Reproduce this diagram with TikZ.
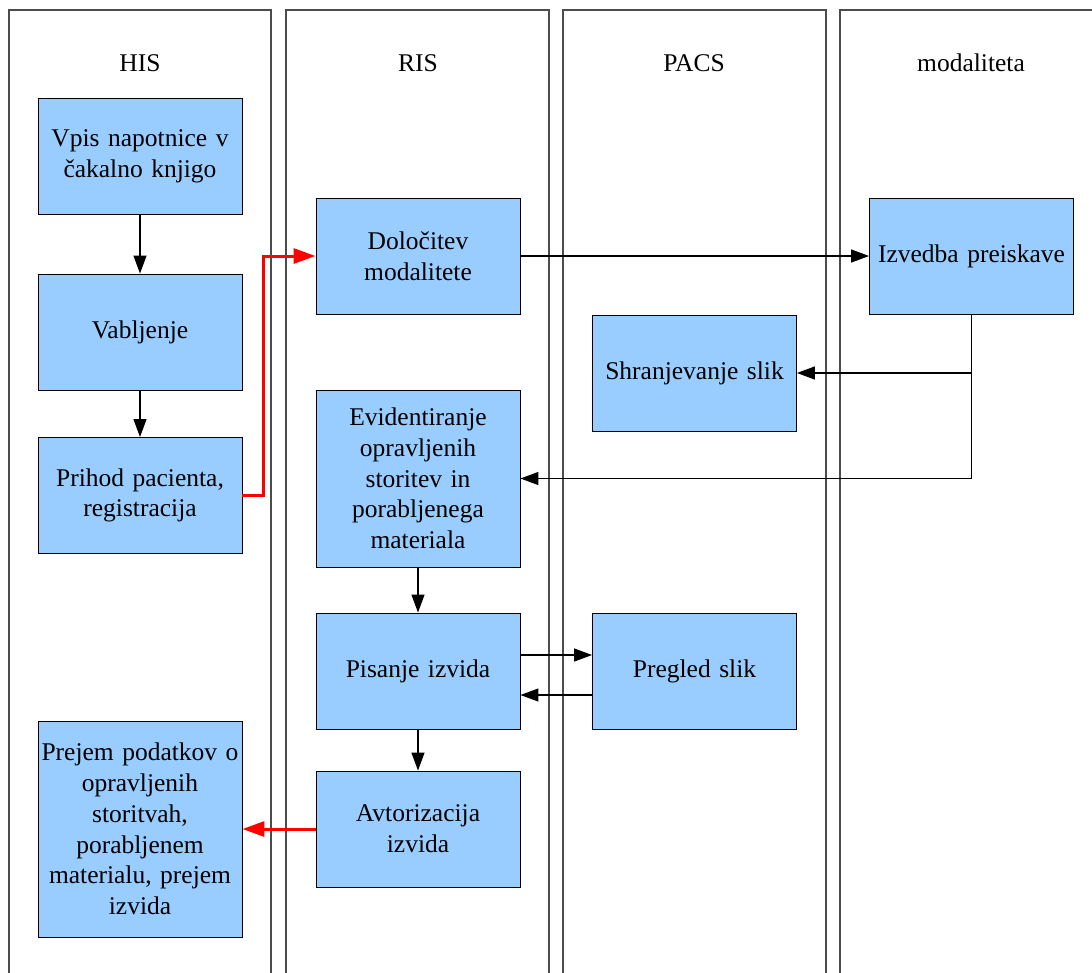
\documentclass[tikz,border=0pt]{standalone}
\usepackage{fontspec}
\setmainfont{Liberation Serif}
\usetikzlibrary{arrows.meta}
\begin{document}
\begin{tikzpicture}[x=1pt,y=-1pt,
  lane/.style={draw=black!70,line width=1.4pt},
  lanetitle/.style={font=\fontsize{25.5}{30}\selectfont},
  proc/.style={draw=black,line width=0.9pt,fill=procfill,
    minimum width=204pt,minimum height=116pt,inner sep=2pt,
    text width=198pt,align=center,font=\fontsize{25.5}{30.7}\selectfont},
  flow/.style={draw=black,line width=1.3pt,-{Triangle[length=18pt,width=13pt]}},
  hot/.style={draw=red,line width=3pt,-{Triangle[length=22pt,width=15pt]}}
]
\definecolor{procfill}{HTML}{99CCFF}
\useasboundingbox (0,0) rectangle (1092,972);
\clip (0,0) rectangle (1092,972);
\fill[white] (0,0) rectangle (1092,972);

% swimlanes
\draw[lane] (9,10) rectangle (271,990);
\draw[lane] (286,10) rectangle (549,990);
\draw[lane] (563,10) rectangle (826,990);
\draw[lane] (840,10) rectangle (1110,990);
\node[lanetitle] (tHIS) at (140,63) {HIS};
\node[lanetitle] (tRIS) at (418,63) {RIS};
\node[lanetitle] (tPACS) at (694,63) {PACS};
\node[lanetitle] (tMOD) at (971,63) {modaliteta};

% process steps
\node[proc] (vpis) at (140,156) {Vpis napotnice v\\ čakalno knjigo};
\node[proc] (vab) at (140,332) {Vabljenje};
\node[proc] (prihod) at (140,495.5) {Prihod pacienta,\\ registracija};
\node[proc,minimum height=216pt] (prejem) at (140,829) {Prejem podatkov o\\ opravljenih\\ storitvah,\\ porabljenem\\ materialu, prejem\\ izvida};
\node[proc] (dol) at (418,256) {Določitev\\ modalitete};
\node[proc,minimum height=177pt] (evid) at (418,478.5) {Evidentiranje\\ opravljenih\\ storitev in\\ porabljenega\\ materiala};
\node[proc] (pis) at (418,671) {Pisanje izvida};
\node[proc] (avt) at (418,829) {Avtorizacija\\ izvida};
\node[proc] (shr) at (694.5,373) {Shranjevanje slik};
\node[proc] (preg) at (694.5,671) {Pregled slik};
\node[proc] (izv) at (971.5,256) {Izvedba preiskave};

% connectors
\draw[flow] (vpis) -- (vab);
\draw[flow] (vab) -- (prihod);
\draw[hot] (prihod.east) -| (263,256) -- (dol.west);
\draw[flow] (dol) -- (izv);
\draw[flow] (izv.south) |- (shr.east);
\draw[flow] (izv.south) |- (evid.east);
\draw[flow] (evid) -- (pis);
\draw[flow] ([yshift=16pt]pis.east) -- ([yshift=16pt]preg.west);
\draw[flow] ([yshift=-24pt]preg.west) -- ([yshift=-24pt]pis.east);
\draw[flow] (pis) -- (avt);
\draw[hot] (avt.west) -- (prejem.east);
\end{tikzpicture}
\end{document}
